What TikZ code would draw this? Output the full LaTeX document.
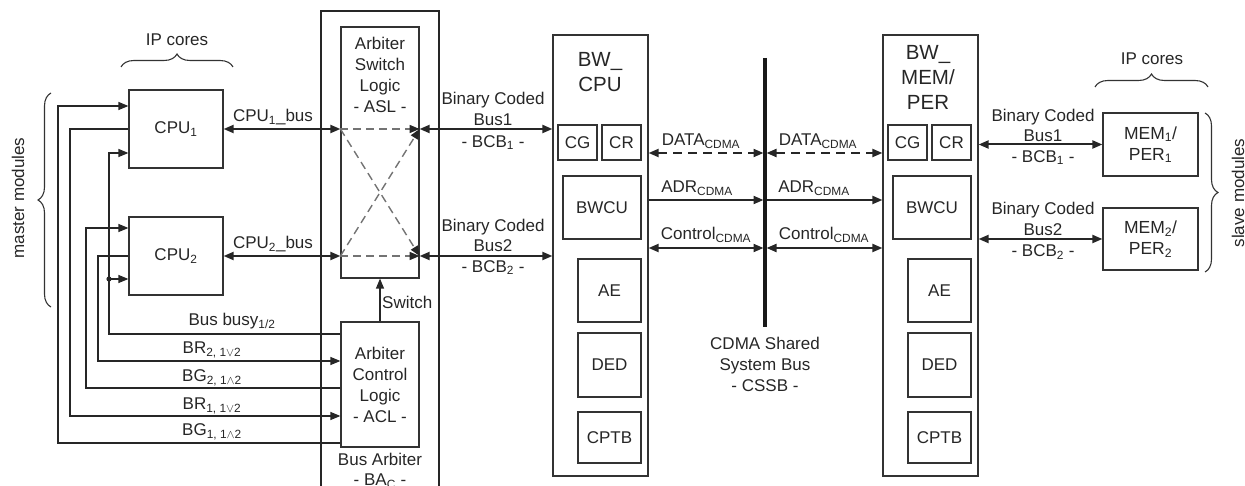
\documentclass[tikz,border=0pt]{standalone}
\usepackage{fontspec}
\setmainfont{Liberation Sans}
\usetikzlibrary{arrows.meta,decorations.pathreplacing}
\newcommand{\sub}[1]{\textsubscript{#1}}
\begin{document}
\begin{tikzpicture}[x=1pt,y=-1pt,
  txt/.style={font=\fontsize{17}{20.5}\selectfont, text=black!85, inner sep=0pt, align=center},
  title/.style={font=\fontsize{20.5}{25}\selectfont, text=black!85, inner sep=0pt, align=center},
  box/.style={draw=black!80, line width=1.2pt, inner sep=0pt, txt},
  wire/.style={draw=black!85, line width=1.2pt},
  bus/.style={draw=black!85, line width=2pt},
  dsh/.style={dash pattern=on 9pt off 6pt},
  xdsh/.style={draw=black!55, line width=1.4pt, dash pattern=on 8pt off 5pt},
  tip/.style={-{Triangle[length=10pt,width=8pt,color=black!85]}},
  tips/.style={{Triangle[length=10pt,width=8pt]}-{Triangle[length=10pt,width=8pt]}},
  brc/.style={draw=black!80, line width=1.1pt, decorate, decoration={brace, amplitude=13pt}}
]
\useasboundingbox (0,0) rectangle (1245,486);

% ---------- master IP cores ----------
\node[box, minimum width=94pt, minimum height=78pt] (cpu1) at (176,129) {CPU\sub{1}};
\node[box, minimum width=94pt, minimum height=78pt] (cpu2) at (176,256) {CPU\sub{2}};
\node[txt] (ipl) at (177,40) {IP cores};
\draw[brc] (121,67) -- (233,67);
\draw[brc] (51,307) -- (51,93);
\node[txt, rotate=90] (mm) at (18,198) {master modules};

% ---------- bus arbiter ----------
\draw[wire] (321,495) -- (321,11) -- (439,11) -- (439,495);
\node[box, minimum width=78pt, minimum height=251pt] (asl) at (380,152.5) {};
\node[txt, font=\fontsize{17}{21}\selectfont] (asltxt) at (380,74.5) {Arbiter\\Switch\\Logic\\- ASL -};
\node[box, minimum width=78pt, minimum height=125pt, font=\fontsize{17}{21}\selectfont] (acl) at (380,384.5) {Arbiter\\Control\\Logic\\- ACL -};
\node[txt, font=\fontsize{17}{20}\selectfont] (ba) at (380,471) {Bus Arbiter\\- BA\sub{C} -};

% crossbar inside the switch logic
\draw[xdsh,tip] (asl.west |- cpu1.east) -- (asl.east |- cpu1.east);
\draw[xdsh,tip] (asl.west |- cpu2.east) -- (asl.east |- cpu2.east);
\draw[xdsh,tip] (asl.west |- cpu1.east) -- (asl.east |- cpu2.east);
\draw[xdsh,tip] (asl.west |- cpu2.east) -- (asl.east |- cpu1.east);

\draw[wire,tip] (acl.north) -- (asl.south);
\node[txt, anchor=west] (sw) at (382,302) {Switch};

% ---------- request / grant wires ----------
\draw[wire,tip] (acl.west |- 0,443) -- (58,443) -- (58,106) -- (cpu1.west |- 0,106);
\draw[wire,tip] (cpu1.west |- 0,129) -- (70,129) -- (70,416) -- (acl.west |- 0,416);
\draw[wire,tip] (acl.west |- 0,334) -- (109,334) -- (109,153) -- (cpu1.west |- 0,153);
\coordinate (bb) at (109,279);
\fill[black!85] (bb) circle (2.6pt);
\draw[wire,tip] (bb) -- (cpu2.west |- bb);
\draw[wire,tip] (acl.west |- 0,388) -- (86,388) -- (86,228) -- (cpu2.west |- 0,228);
\draw[wire,tip] (cpu2.west |- 0,256) -- (98,256) -- (98,361) -- (acl.west |- 0,361);

\node[txt] (lbb) at (232,321) {Bus busy\sub{1/2}};
\node[txt] (lbr2) at (212,350) {BR\sub{2, 1$\vee$2}};
\node[txt] (lbg2) at (212,378) {BG\sub{2, 1$\wedge$2}};
\node[txt] (lbr1) at (212,406) {BR\sub{1, 1$\vee$2}};
\node[txt] (lbg1) at (212,432) {BG\sub{1, 1$\wedge$2}};

% ---------- CPU buses ----------
\draw[bus,tips] (cpu1.east) -- (asl.west |- cpu1.east);
\draw[bus,tips] (cpu2.east) -- (asl.west |- cpu2.east);
\node[txt] (lc1) at (273,117) {CPU\sub{1}\_bus};
\node[txt] (lc2) at (273,244) {CPU\sub{2}\_bus};

% ---------- bus wrapper CPU ----------
\node[box, minimum width=95pt, minimum height=441pt] (bwcpu) at (600.5,255.5) {};
\node[title] (bwcput) at (600,72.5) {BW\_\\CPU};
\node[box, minimum width=39pt, minimum height=35pt] (cg1) at (577.5,142.5) {CG};
\node[box, minimum width=39pt, minimum height=35pt] (cr1) at (621.5,142.5) {CR};
\node[box, minimum width=78pt, minimum height=63pt] (bwcu1) at (602,207.5) {BWCU};
\node[box, minimum width=63pt, minimum height=63pt] (ae1) at (609.5,290.5) {AE};
\node[box, minimum width=63pt, minimum height=64pt] (ded1) at (609.5,365) {DED};
\node[box, minimum width=63pt, minimum height=51pt] (cptb1) at (609.5,437.5) {CPTB};

\draw[bus,tips] (asl.east |- cpu1.east) -- (bwcpu.west |- cpu1.east);
\draw[bus,tips] (asl.east |- cpu2.east) -- (bwcpu.west |- cpu2.east);
\node[txt, font=\fontsize{17}{21.5}\selectfont] (lb1) at (493,121) {Binary Coded\\Bus1\\- BCB\sub{1} -};
\node[txt, font=\fontsize{17}{20.5}\selectfont] (lb2) at (493,247) {Binary Coded\\Bus2\\- BCB\sub{2} -};

% ---------- CDMA shared system bus ----------
\coordinate (cssbT) at (765,58);
\coordinate (cssbB) at (765,327);
\draw[black!90, line width=3.5pt] (cssbT) -- (cssbB);
\node[txt, font=\fontsize{17}{21}\selectfont] (cssb) at (765,364) {CDMA Shared\\System Bus\\- CSSB -};

% ---------- bus wrapper MEM/PER ----------
\node[box, minimum width=95pt, minimum height=441pt] (bwmem) at (930.5,255.5) {};
\node[title] (bwmemt) at (928,77) {BW\_\\MEM/\\PER};
\node[box, minimum width=39pt, minimum height=35pt] (cg2) at (907.5,142.5) {CG};
\node[box, minimum width=39pt, minimum height=35pt] (cr2) at (951.5,142.5) {CR};
\node[box, minimum width=78pt, minimum height=63pt] (bwcu2) at (932,207.5) {BWCU};
\node[box, minimum width=63pt, minimum height=63pt] (ae2) at (939.5,290.5) {AE};
\node[box, minimum width=63pt, minimum height=64pt] (ded2) at (939.5,365) {DED};
\node[box, minimum width=63pt, minimum height=51pt] (cptb2) at (939.5,437.5) {CPTB};

% CDMA channels
\draw[bus,dsh,tips,shorten >=1.5pt] (bwcpu.east |- 0,153) -- (cssbT |- 0,153);
\draw[bus,dsh,tips,shorten <=1.5pt] (cssbT |- 0,153) -- (bwmem.west |- 0,153);
\draw[bus,tip,shorten >=1.5pt] (bwcpu.east |- 0,200) -- (cssbT |- 0,200);
\draw[bus,tip,shorten <=1.5pt] (cssbT |- 0,200) -- (bwmem.west |- 0,200);
\draw[bus,tips,shorten >=1.5pt] (bwcpu.east |- 0,248) -- (cssbT |- 0,248);
\draw[bus,tips,shorten <=1.5pt] (cssbT |- 0,248) -- (bwmem.west |- 0,248);
\node[txt] (ld1) at (701,141) {DATA\sub{CDMA}};
\node[txt] (ld2) at (818,141) {DATA\sub{CDMA}};
\node[txt] (la1) at (697,188) {ADR\sub{CDMA}};
\node[txt] (la2) at (814,188) {ADR\sub{CDMA}};
\node[txt] (lk1) at (706,235) {Control\sub{CDMA}};
\node[txt] (lk2) at (824,235) {Control\sub{CDMA}};

% ---------- slave IP cores ----------
\node[box, minimum width=95pt, minimum height=63pt, font=\fontsize{17.5}{21}\selectfont] (mem1) at (1150.5,144.5) {MEM\sub{1}/\\PER\sub{1}};
\node[box, minimum width=95pt, minimum height=62pt, font=\fontsize{17.5}{21}\selectfont] (mem2) at (1150.5,239) {MEM\sub{2}/\\PER\sub{2}};
\draw[bus,tips] (bwmem.east |- mem1.west) -- (mem1.west);
\draw[bus,tips] (bwmem.east |- mem2.west) -- (mem2.west);
\node[txt, font=\fontsize{17}{20.5}\selectfont] (lb3) at (1043,137) {Binary Coded\\Bus1\\- BCB\sub{1} -};
\node[txt, font=\fontsize{17}{21}\selectfont] (lb4) at (1043,231) {Binary Coded\\Bus2\\- BCB\sub{2} -};
\node[txt] (ipr) at (1152,59) {IP cores};
\draw[brc] (1095,87) -- (1208,87);
\draw[brc] (1205,113) -- (1205,272);
\node[txt, rotate=90] (sm) at (1238,193) {slave modules};
\end{tikzpicture}
\end{document}
